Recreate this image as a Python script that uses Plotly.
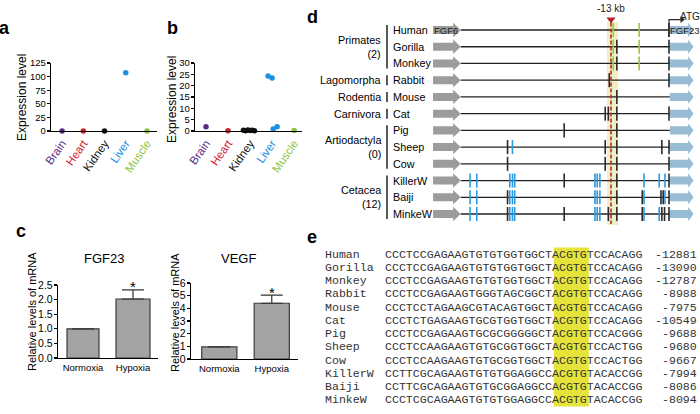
import plotly.graph_objects as go

W, H = 700, 414
FONT = "Liberation Sans, Arial, sans-serif"
MONO = "Courier New, Liberation Mono, monospace"


def fx(p):
    return p / W


def fy(p):
    return 1 - p / H


# ---------------- data ----------------
tissues = ["Brain", "Heart", "Kidney", "Liver", "Muscle"]
tissue_colors = ["#5b2a86", "#d0202e", "#111111", "#1b8fe3", "#8cc43c"]

# panel a (mean expression)
a_idx = [0, 1, 2, 3, 4]
a_val = [0, 0, 0, 107, 0]

# panel b (individual samples, tissue index + jitter)
b_idx = [0, 1, 2, 2, 2, 2, 2, 2, 3, 3, 3, 3, 4]
b_pos = [0, 1, 1.7, 1.8, 1.9, 2.0, 2.1, 2.2, 2.82, 3.0, 3.05, 3.23, 4]
b_val = [1.9, 0.1, 0.3, 0.1, 0.4, 0.2, 0.3, 0.1, 24.3, 23.4, 0.9, 1.9, 0.2]

# panel c
conditions = ["Normoxia", "Hypoxia"]
fgf23_mean = [1.0, 2.02]
fgf23_err = [None, 0.31]
vegf_mean = [0.95, 4.4]
vegf_err = [None, 0.65]

# panel d (positions in kb relative to FGF23 ATG)
species = ["Human", "Gorilla", "Monkey", "Rabbit", "Mouse", "Cat", "Pig",
           "Sheep", "Cow", "KillerW", "Baiji", "MinkeW"]
groups = [("Primates", "(2)", 0, 2), ("Lagomorpha", "", 3, 3),
          ("Rodentia", "", 4, 4), ("Carnivora", "", 5, 5),
          ("Artiodactyla", "(0)", 6, 8), ("Cetacea", "(12)", 9, 11)]
fgf6_gene = [-52.9, -48.4, -46.7]     # start, head start, tip
fgf23_gene = [0.2, 4.3, 5.5]
motif_black = {
    "Human": [0],
    "Gorilla": [-11.7, 0],
    "Monkey": [-11.7, 0],
    "Rabbit": [-13.4, 0],
    "Mouse": [-11.7],
    "Cat": [-14.3, -13.6, -11.7, 0],
    "Pig": [-23.5, -11.7],
    "Sheep": [-36.2, -14.3, -11.7, -1.6, 0],
    "Cow": [-36.2, -14.3, -11.7, 0],
    "KillerW": [-23.5, -11.7, 0],
    "Baiji": [-36.2, -11.7, -6.0, -1.8, -1.3, 0],
    "MinkeW": [-36.2, -23.5, -13.6, -11.7, -6.0, -1.6, -1.0, 0],
}
motif_blue = {
    "Sheep": [-35.1],
    "KillerW": [-44.6, -43.1, -35.7, -35.1, -34.6, -16.6, -16.1, -15.5, -5.6, -2.2, -0.9],
    "Baiji": [-44.6, -43.1, -35.7, -35.1, -34.6, -16.6, -16.1, -15.5, -5.6, -0.9],
    "MinkeW": [-44.6, -43.1, -35.7, -35.1, -34.6, -16.6, -16.1, -15.5, -5.6, -2.2],
}
motif_green = {"Human": [-12.5, -6.7], "Gorilla": [-12.5, -6.7], "Monkey": [-12.5, -6.7]}
site_kb = -13.0
site_band = [-13.9, -11.4]

# panel e
seq_names = species
sequences = [
    "CCCTCCGAGAAGTGTGTGGTGGCTACGTGTCCACAGG",
    "CCCTCCGAGAAGTGTGTGGTGGCTACGTGTCCACAGG",
    "CCCTCCGAGAAGTGTGTGGTGGCTACGTGTCCACAGG",
    "CCCTCCGAGAAGTGGGTAGCGGCTACGTGTCCACAGG",
    "CCCTCCTAGAAGCGTACAGTGGCTACGTGTCCACAGG",
    "CCCTCTGAGAAGTGCGTGGTGGCTACGTGTCCACAGG",
    "CCCTCCGAGAAGTGCGCGGGGGCTACGTGTCCACGGG",
    "CCCTCCAAGAAGTGTGCGGTGGCTACGTGTCCACTGG",
    "CCCTCCAAGAAGTGTGCGGTGGCTACGTGTCCACTGG",
    "CCTTCGCAGAAGTGTGTGGAGGCCACGTGTACACCGG",
    "CCTTCGCAGAAGTGTGCGGAGGCCACGTGTACACCGG",
    "CCCTCGCAGAAGTGTGTGGAGGCCACGTGTACACCGG",
]
positions = ["-12881", "-13090", "-12787", "-8988", "-7975", "-10549",
             "-9688", "-9680", "-9667", "-7994", "-8086", "-8094"]
motif_cols = [24, 29]

fig = go.Figure()

# ---------------- panel a ----------------
fig.add_trace(go.Scatter(
    x=a_idx, y=a_val, mode="markers", xaxis="x", yaxis="y", cliponaxis=False,
    marker=dict(size=5.5, color=[tissue_colors[i] for i in a_idx]), hoverinfo="skip"))

# ---------------- panel b ----------------
fig.add_trace(go.Scatter(
    x=b_pos, y=b_val, mode="markers", xaxis="x2", yaxis="y2", cliponaxis=False,
    marker=dict(size=5.5, color=[tissue_colors[i] for i in b_idx]), hoverinfo="skip"))

# ---------------- panel c ----------------
for mean, err, xa, ya, wid in [(fgf23_mean, fgf23_err, "x3", "y3", [0.64, 0.68]),
                               (vegf_mean, vegf_err, "x4", "y4", [0.67, 0.67])]:
    fig.add_trace(go.Bar(
        x=[0, 1], y=mean, width=wid, xaxis=xa, yaxis=ya,
        marker=dict(color="#a3a3a3", line=dict(color="#3c3c3c", width=1.2)),
        error_y=dict(type="data", symmetric=False, array=err, arrayminus=[None, 0],
                     color="#333333", thickness=1.2, width=11),
        hoverinfo="skip"))

# ---------------- panel d ----------------
def arrow_poly(g, rows):
    xs, ys = [], []
    for r in rows:
        x0, xh, xt = g
        xs += [x0, xh, xh, xt, xh, xh, x0, x0, None]
        ys += [r - 0.24, r - 0.24, r - 0.43, r, r + 0.43, r + 0.24, r + 0.24, r - 0.24, None]
    return xs, ys

rows = list(range(len(species)))
lx, ly = [], []
for r in rows:
    lx += [fgf6_gene[2], fgf23_gene[0], None]
    ly += [r, r, None]
fig.add_trace(go.Scatter(x=lx, y=ly, mode="lines", xaxis="x5", yaxis="y5",
                         line=dict(color="#222222", width=1.3), hoverinfo="skip"))
gx, gy = arrow_poly(fgf6_gene, rows)
fig.add_trace(go.Scatter(x=gx, y=gy, mode="lines", fill="toself", fillcolor="#9c9c9c",
                         line=dict(width=0, color="#9c9c9c"), xaxis="x5", yaxis="y5",
                         hoverinfo="skip"))
bx, by = arrow_poly(fgf23_gene, rows)
fig.add_trace(go.Scatter(x=bx, y=by, mode="lines", fill="toself", fillcolor="#97bcd3",
                         line=dict(width=0, color="#97bcd3"), xaxis="x5", yaxis="y5",
                         hoverinfo="skip"))

for motifs, col in [(motif_black, "#2a2a2a"), (motif_blue, "#2b9ae0"), (motif_green, "#9cc83c")]:
    mx, my = [], []
    for sp, pos in motifs.items():
        r = species.index(sp)
        for p in pos:
            mx += [p, p, None]
            my += [r - 0.42, r + 0.42, None]
    fig.add_trace(go.Scatter(x=mx, y=my, mode="lines", xaxis="x5", yaxis="y5",
                             line=dict(color=col, width=1.6), hoverinfo="skip"))

# ATG bent arrow
fig.add_trace(go.Scatter(x=[0, 0, 2.6], y=[0.42, -0.62, -0.62], mode="lines", xaxis="x5", yaxis="y5",
                         line=dict(color="#2a2a2a", width=1.2), hoverinfo="skip"))
fig.add_trace(go.Scatter(x=[2.9], y=[-0.62], mode="markers", xaxis="x5", yaxis="y5",
                         marker=dict(symbol="triangle-right", size=6, color="#2a2a2a"),
                         hoverinfo="skip"))

# conserved site (red dashed) and marker
fig.add_trace(go.Scatter(x=[site_kb, site_kb], y=[-0.45, 11.6], mode="lines", xaxis="x5", yaxis="y5",
                         line=dict(color="#c1272d", width=1.6, dash="4px,2px"), hoverinfo="skip"))
fig.add_trace(go.Scatter(x=[site_kb], y=[-0.62], mode="markers", xaxis="x5", yaxis="y5",
                         marker=dict(symbol="triangle-down", size=8, color="#b3202a"),
                         cliponaxis=False, hoverinfo="skip"))

shapes = [dict(type="rect", xref="x5", yref="y5", x0=site_band[0], x1=site_band[1],
               y0=-0.48, y1=11.65, fillcolor="#eef0c4", line=dict(width=0), layer="below")]

annotations = []


def ann(text, x, y, xref="paper", yref="paper", size=11, xanchor="center", yanchor="middle",
        color="black", family=FONT, bold=False, textangle=0, align="center"):
    annotations.append(dict(
        text=f"<b>{text}</b>" if bold else text, x=x, y=y, xref=xref, yref=yref,
        showarrow=False, xanchor=xanchor, yanchor=yanchor, textangle=textangle, align=align,
        font=dict(size=size, color=color, family=family), borderpad=0, borderwidth=0))


# panel labels
ann("a", fx(4), fy(28), size=18, bold=True)
ann("b", fx(172), fy(28), size=18, bold=True)
ann("c", fx(21), fy(231), size=18, bold=True)
ann("d", fx(312), fy(17), size=18, bold=True)
ann("e", fx(312), fy(237), size=18, bold=True)

# axis titles
ann("Expression level", fx(22), fy(98), size=12, textangle=-90)
ann("Expression level", fx(172), fy(100), size=12, textangle=-90)
ann("Relative levels of mRNA", fx(32), fy(312), size=11, textangle=-90)
ann("Relative levels of mRNA", fx(175), fy(313), size=11, textangle=-90)
ann("FGF23", fx(104), fy(258), size=13)
ann("VEGF", fx(238), fy(258), size=13)

# significance
ann("*", 1, fgf23_mean[1] + fgf23_err[1], xref="x3", yref="y3", size=15)
annotations[-1]["yshift"] = 3
ann("*", 1, vegf_mean[1] + vegf_err[1], xref="x4", yref="y4", size=15)
annotations[-1]["yshift"] = 3

# panel d text
for r, sp in enumerate(species):
    ann(sp, fx(393), r, yref="y5", size=10.8, xanchor="left")
for name, n, r0, r1 in groups:
    txt = name if not n else f"{name}<br>{n}"
    ann(txt, fx(381), (r0 + r1) / 2, yref="y5", size=10.8, xanchor="right", align="right")
    shapes.append(dict(type="line", xref="paper", yref="y5", x0=fx(387), x1=fx(387),
                       y0=r0 - 0.3, y1=r1 + 0.3, line=dict(color="black", width=1.3)))
ann("FGF6", -50.0, 0, xref="x5", yref="y5", size=9.5, color="#222222")
ann("FGF23", 3.6, 0.05, xref="x5", yref="y5", size=9.5, color="#222222")
ann("ATG", 4.75, -0.82, xref="x5", yref="y5", size=10, color="#222222")
ann("-13 kb", site_kb, -1.3, xref="x5", yref="y5", size=10, color="#222222")

# panel e
shapes.append(dict(type="rect", xref="x6", yref="y6", x0=motif_cols[0], x1=motif_cols[1],
                   y0=-0.5, y1=11.5, fillcolor="#e6e43a", line=dict(width=0), layer="below"))
for r, (nm, s, p) in enumerate(zip(seq_names, sequences, positions)):
    ann(nm, -8.55, r, xref="x6", yref="y6", size=11.6, xanchor="left", family=MONO, color="#333333")
    ann(s, 0, r, xref="x6", yref="y6", size=11.6, xanchor="left", family=MONO, color="#333333")
    ann(p, 44.4, r, xref="x6", yref="y6", size=11.6, xanchor="right", family=MONO, color="#333333")
stars = "".join("*" if len(set(col)) == 1 else "\u00a0" for col in zip(*sequences))
ann(stars, 0, 12.1, xref="x6", yref="y6", size=11.6, xanchor="left", family=MONO, color="#333333")

# ---------------- axes ----------------
tick_txt = [f'<span style="color:{c}">{t}</span>' for t, c in zip(tissues, tissue_colors)]
common_x = dict(showgrid=False, zeroline=False, showline=True, linecolor="black", linewidth=1.2,
                ticks="", fixedrange=True, automargin=False, ticklabeloverflow="allow")
common_y = dict(showgrid=False, zeroline=False, showline=True, linecolor="black", linewidth=1.2,
                ticks="outside", ticklen=3, tickwidth=1.2, tickcolor="black", fixedrange=True,
                automargin=False, showticklabels=True, ticklabeloverflow="allow",
                ticklabelposition="outside", ticklabelstandoff=-1)
hidden = dict(visible=False, fixedrange=True, automargin=False, showgrid=False, zeroline=False)

fig.update_layout(
    width=W, height=H, margin=dict(l=0, r=0, t=0, b=0, pad=0), template="none",
    paper_bgcolor="white", plot_bgcolor="rgba(0,0,0,0)", showlegend=False,
    font=dict(family=FONT, size=11, color="black"), barmode="overlay",
    xaxis=dict(domain=[fx(51), fx(157)], range=[-0.52, 4.47], tickvals=list(range(5)),
               ticktext=tick_txt, tickangle=-55, tickfont=dict(size=11.5), anchor="y", **common_x),
    yaxis=dict(domain=[fy(131), fy(63)], range=[0, 125], tickvals=[0, 25, 50, 75, 100, 125],
               tickfont=dict(size=9.5), anchor="x", **common_y),
    xaxis2=dict(domain=[fx(195), fx(302)], range=[-0.5, 4.36], tickvals=list(range(5)),
                ticktext=tick_txt, tickangle=-55, tickfont=dict(size=11.5), anchor="y2", **common_x),
    yaxis2=dict(domain=[fy(131), fy(63)], range=[0, 30], tickvals=[0, 5, 10, 15, 20, 25, 30],
                tickfont=dict(size=9.5), anchor="x2", **common_y),
    xaxis3=dict(domain=[fx(58), fx(158)], range=[-0.5, 1.5], tickvals=[0, 1], ticktext=conditions,
                tickfont=dict(size=9.5), anchor="y3", **common_x),
    yaxis3=dict(domain=[fy(358), fy(285)], range=[0, 2.5], tickvals=[0, 0.5, 1, 1.5, 2, 2.5],
                tickformat=".1f", tickfont=dict(size=10.5), anchor="x3", **common_y),
    xaxis4=dict(domain=[fx(191), fx(298)], range=[-0.54, 1.5], tickvals=[0, 1], ticktext=conditions,
                tickfont=dict(size=9.5), anchor="y4", **common_x),
    yaxis4=dict(domain=[fy(359), fy(283)], range=[0, 6], tickvals=list(range(7)),
                tickfont=dict(size=10.5), anchor="x4", **common_y),
    xaxis5=dict(domain=[fx(420), 1], range=[(420 - 669) / 4.46, (700 - 669) / 4.46], anchor="y5", **hidden),
    yaxis5=dict(domain=[fy(230), 1], range=[11.955, -1.793], anchor="x5", **hidden),
    xaxis6=dict(domain=[fx(308), 1], range=[-10.953, 44.808], anchor="y6", **hidden),
    yaxis6=dict(domain=[0, fy(240)], range=[12.075, -1.057], anchor="x6", **hidden),
    shapes=shapes, annotations=annotations,
)

fig.write_html("out.html", config={"displayModeBar": False, "staticPlot": True},
               post_script="document.body.style.margin='0';document.body.style.padding='0';")
